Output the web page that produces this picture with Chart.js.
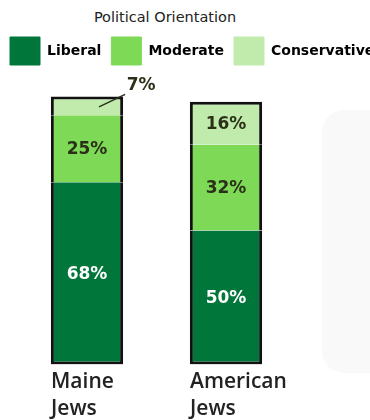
<!DOCTYPE html>
<html>
<head>
<meta charset="utf-8">
<script src="https://cdn.jsdelivr.net/npm/chart.js@4/dist/chart.umd.min.js"></script>
<style>
  body { margin: 0; background: #fff; }
  #wrap { position: relative; width: 370px; height: 420px; overflow: hidden; }
  #shade { position: absolute; left: 322px; top: 110px; width: 70px; height: 263px;
           background: #f9f9f9; border-radius: 22px; }
  #title { position: absolute; left: 0; top: 9px; width: 330px; text-align: center;
           font: 14.5px "DejaVu Sans", sans-serif; color: #222; }
  canvas { position: absolute; left: 0; top: 0; }
</style>
</head>
<body>
<div id="wrap">
  <div id="shade"></div>
  <div id="title">Political Orientation</div>
  <canvas id="orientationChart" width="390" height="427"></canvas>
</div>
<script>
const categories = [['Maine', 'Jews'], ['American', 'Jews']];
const seriesNames = ['Liberal', 'Moderate', 'Conservative'];
const liberal = [68, 50];
const moderate = [25, 32];
const conservative = [7, 16];
const seriesColors = ['#00763a', '#7ed957', '#c1ebad'];

// percent labels inside the segments, small ones go outside with a leader line
const segmentLabels = {
    id: 'segmentLabels',
    afterDatasetsDraw(chart) {
        const ctx = chart.ctx;
        ctx.save();
        ctx.font = 'bold 17px "DejaVu Sans", sans-serif';
        ctx.textAlign = 'center';
        ctx.textBaseline = 'middle';
        chart.data.datasets.forEach((ds, di) => {
            chart.getDatasetMeta(di).data.forEach((bar, i) => {
                const v = ds.data[i];
                const mid = (bar.y + bar.base) / 2;
                ctx.fillStyle = di === 0 ? '#ffffff' : '#2b3119';
                if (v < 10) {
                    const right = bar.x + bar.width / 2;
                    ctx.strokeStyle = '#2b3119';
                    ctx.lineWidth = 1.5;
                    ctx.beginPath();
                    ctx.moveTo(bar.x + 12, mid + 1);
                    ctx.lineTo(right + 2, bar.y - 2);
                    ctx.stroke();
                    ctx.fillText(v + '%', right + 18, bar.y - 11);
                } else {
                    ctx.fillText(v + '%', bar.x, mid + 1);
                }
            });
        });
        ctx.restore();
    }
};

const ctx = document.getElementById('orientationChart').getContext('2d');

new Chart(ctx, {
    type: 'bar',
    data: {
        labels: categories,
        datasets: [
            { label: seriesNames[0], data: liberal, backgroundColor: seriesColors[0] },
            { label: seriesNames[1], data: moderate, backgroundColor: seriesColors[1] },
            { label: seriesNames[2], data: conservative, backgroundColor: seriesColors[2] }
        ]
    },
    options: {
        responsive: false,
        animation: false,
        datasets: {
            bar: {
                borderColor: '#111111',
                borderWidth: 3,
                borderSkipped: 'middle',
                categoryPercentage: 1,
                barPercentage: 0.52
            }
        },
        layout: {
            padding: { top: 27, bottom: 0, left: 0, right: 0 }
        },
        plugins: {
            legend: {
                position: 'top',
                align: 'start',
                labels: {
                    boxWidth: 30,
                    boxHeight: 28,
                    padding: 10,
                    color: '#000',
                    font: { family: '"DejaVu Sans", sans-serif', size: 14, weight: 'bold' },
                    generateLabels(chart) {
                        return Chart.defaults.plugins.legend.labels.generateLabels(chart).map(item => {
                            item.strokeStyle = item.fillStyle;
                            item.lineWidth = 1;
                            return item;
                        });
                    }
                }
            },
            tooltip: { enabled: false }
        },
        scales: {
            x: {
                stacked: true,
                grid: { display: false, drawTicks: false },
                border: { display: false },
                ticks: {
                    align: 'start',
                    labelOffset: -36,
                    padding: 4,
                    color: '#222',
                    font: { family: '"Open Sans", sans-serif', size: 21, weight: 600, lineHeight: 1.3 }
                }
            },
            y: {
                stacked: true,
                min: 0,
                max: 108,
                ticks: { display: false },
                grid: { display: false },
                border: { display: false },
                afterFit(scale) { scale.width = 17.5; }
            },
            y2: {
                position: 'right',
                ticks: { display: false },
                grid: { display: false },
                border: { display: false },
                afterFit(scale) { scale.width = 94.5; }
            }
        }
    },
    plugins: [segmentLabels]
});
</script>
</body>
</html>
